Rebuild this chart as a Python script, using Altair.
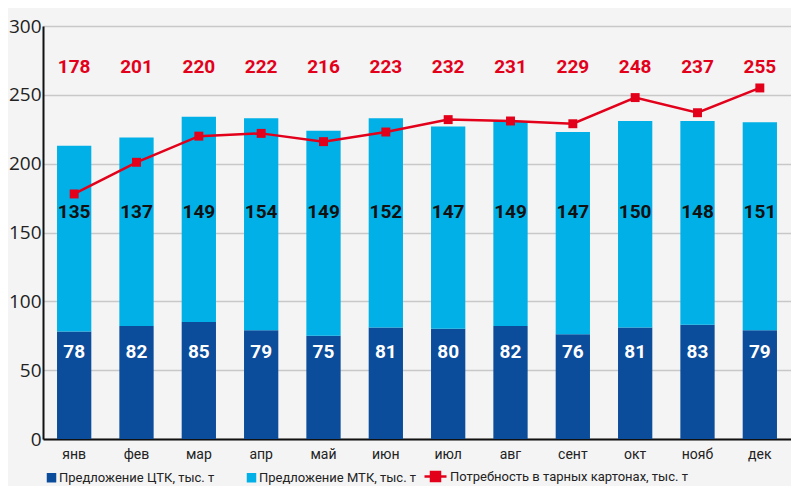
import altair as alt
import pandas as pd

months = ["янв", "фев", "мар", "апр", "май", "июн", "июл", "авг", "сент", "окт", "нояб", "дек"]
ctk = [78, 82, 85, 79, 75, 81, 80, 82, 76, 81, 83, 79]
mtk = [135, 137, 149, 154, 149, 152, 147, 149, 147, 150, 148, 151]
need = [178, 201, 220, 222, 216, 223, 232, 231, 229, 248, 237, 255]

S_CTK = "Предложение ЦТК, тыс. т"
S_MTK = "Предложение МТК, тыс. т"
S_NEED = "Потребность в тарных картонах, тыс. т"

DARK = "#0b4c9b"
LIGHT = "#00b0e6"
RED = "#e2001a"
NUMFONT = "Roboto"
TXTFONT = "Roboto"

bars = pd.DataFrame(
    [{"month": m, "series": S_CTK, "value": v, "ord": 0} for m, v in zip(months, ctk)]
    + [{"month": m, "series": S_MTK, "value": v, "ord": 1} for m, v in zip(months, mtk)]
)
line_df = pd.DataFrame({"month": months, "need": need, "series": [S_NEED] * len(months)})
lab_ctk = pd.DataFrame({"month": months, "v": ctk})
lab_mtk = pd.DataFrame({"month": months, "v": mtk})

xenc = alt.X(
    "month:N",
    sort=months,
    title=None,
    scale=alt.Scale(paddingInner=0.45, paddingOuter=0.225),
    axis=alt.Axis(
        labelAngle=0, labelFont=TXTFONT, labelFontSize=14, labelColor="#222",
        domainColor="#111", domainWidth=2, ticks=False, labelPadding=8,
    ),
)
yscale = alt.Scale(domain=[0, 300])

bar = alt.Chart(bars).mark_bar().encode(
    x=xenc,
    y=alt.Y(
        "value:Q", stack="zero", scale=yscale, title=None,
        axis=alt.Axis(
            values=[0, 50, 100, 150, 200, 250, 300], labelFont="Open Sans", labelFontSize=19,
            labelColor="#222", gridColor="#c8c8c8", gridWidth=1.5, domainColor="#111",
            domainWidth=2, ticks=False, labelPadding=2,
        ),
    ),
    color=alt.Color(
        "series:N",
        scale=alt.Scale(domain=[S_CTK, S_MTK], range=[DARK, LIGHT]),
        legend=alt.Legend(
            title=None, orient="none", legendX=2, legendY=445, direction="horizontal",
            symbolType="square", symbolSize=90, symbolStrokeWidth=0, labelFont=TXTFONT,
            labelFontSize=13, labelColor="#222", columnPadding=30, labelOffset=1, labelLimit=400,
        ),
    ),
    order=alt.Order("ord:Q"),
)

line = alt.Chart(line_df).mark_line(strokeWidth=2.5).encode(
    x=alt.X("month:N", sort=months),
    y=alt.Y("need:Q", scale=yscale),
    stroke=alt.Stroke(
        "series:N",
        scale=alt.Scale(domain=[S_NEED], range=[RED]),
        legend=alt.Legend(
            title=None, orient="none", legendX=381, legendY=439,
            symbolType="M-1.1,0L1.1,0M-0.45,-0.45h0.9v0.9h-0.9z",
            symbolSize=400, symbolStrokeWidth=2.5, symbolFillColor=RED, labelFont=TXTFONT,
            labelFontSize=13, labelColor="#222", labelOffset=3, labelLimit=400,
        ),
    ),
)
pts = alt.Chart(line_df).mark_point(shape="square", filled=True, size=80, color=RED, opacity=1).encode(
    x=alt.X("month:N", sort=months),
    y=alt.Y("need:Q", scale=yscale),
)

red_lab = alt.Chart(line_df).mark_text(
    font=NUMFONT, fontSize=19, fontWeight="bold", color=RED, baseline="middle"
).encode(x=alt.X("month:N", sort=months), y=alt.datum(270), text="need:Q")

mtk_lab = alt.Chart(lab_mtk).mark_text(
    font=NUMFONT, fontSize=19, fontWeight="bold", color="#111", baseline="middle"
).encode(x=alt.X("month:N", sort=months), y=alt.datum(165), text="v:Q")

ctk_lab = alt.Chart(lab_ctk).mark_text(
    font=NUMFONT, fontSize=19, fontWeight="bold", color="white", baseline="middle"
).encode(x=alt.X("month:N", sort=months), y=alt.datum(63), text="v:Q")

chart = (
    alt.layer(bar, line, pts, red_lab, mtk_lab, ctk_lab)
    .resolve_scale(color="independent")
    .properties(width=748, height=413, padding={"top": 9, "left": 0, "right": 0, "bottom": 0}, background="#f4f4f4")
    .configure_view(stroke=None)
)

chart.save("out.html", embed_options={"renderer": "svg", "actions": False})
